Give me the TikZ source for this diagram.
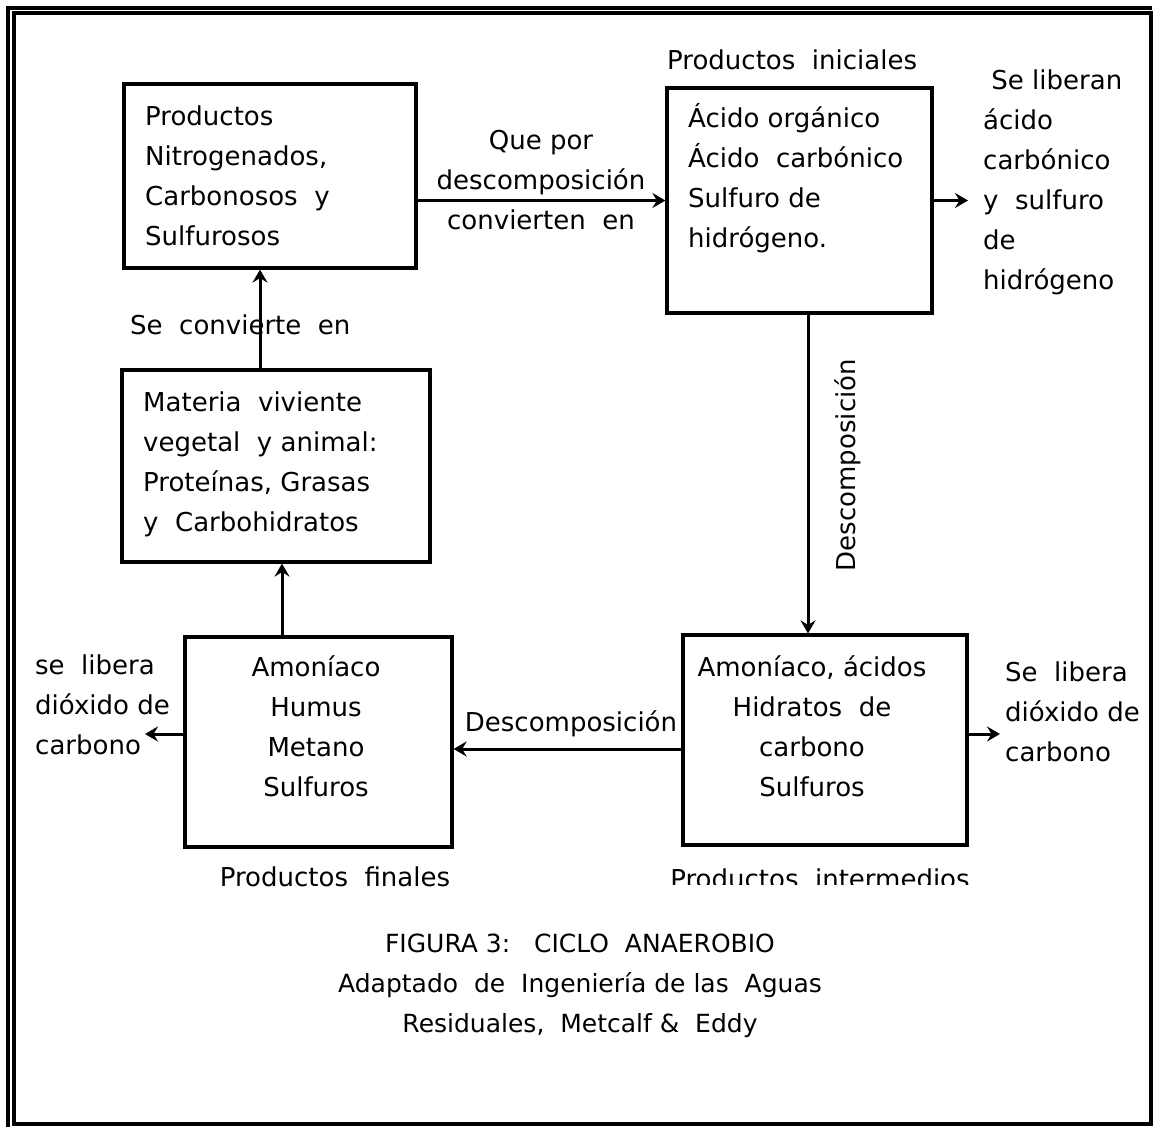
\documentclass[tikz,border=0pt]{standalone}
\usepackage{fontspec}
\setmainfont{DejaVu Sans}
\usetikzlibrary{arrows.meta}
\begin{document}
\begin{tikzpicture}[x=1pt,y=-1pt,
  box/.style={draw,line width=3.2pt,inner sep=0pt},
  conn/.style={line width=3pt,-{Stealth[length=13pt,width=15pt,inset=4.5pt]}},
  txt/.style={inner sep=0pt,font=\fontsize{26}{40}\selectfont},
  captxt/.style={inner sep=0pt,font=\fontsize{25}{40}\selectfont},
  frame/.style={line width=3.2pt}]
\useasboundingbox (0,0) rectangle (1154,1127);

% double frame round the figure
\draw[frame] (14,13) rectangle (1151,1124);
\draw[frame] (8,1127) -- (8,8) -- (1152,8);

% boxes
\node[box,minimum width=292pt,minimum height=184pt] (b1) at (270,176) {};
\node[box,minimum width=265pt,minimum height=225pt] (b2) at (799.5,200.5) {};
\node[box,minimum width=308pt,minimum height=192pt] (b3) at (276,466) {};
\node[box,minimum width=267pt,minimum height=210pt] (b4) at (318.5,742) {};
\node[box,minimum width=284pt,minimum height=210pt] (b5) at (825,740) {};

% box contents (multi-line nodes are placed by the baseline of their last line)
\node[txt,anchor=base west,align=left] (t1) at (145,245)
  {Productos\\Nitrogenados,\\Carbonosos\ \ y\\Sulfurosos};
\node[txt,anchor=base west,align=left] (t2) at (688,247)
  {Ácido orgánico\\Ácido\ \ carbónico\\Sulfuro de\\hidrógeno.};
\node[txt,anchor=base west,align=left] (t3) at (143,531)
  {Materia\ \ viviente\\vegetal\ \ y animal:\\Proteínas, Grasas\\y\ \ Carbohidratos};
\node[txt,anchor=base,align=center] (t4) at (316,796)
  {Amoníaco\\Humus\\Metano\\Sulfuros};
\node[txt,anchor=base,align=center] (t5) at (812,796)
  {Amoníaco, ácidos\\Hidratos\ \ de\\carbono\\Sulfuros};

% labels
\node[txt,anchor=base west] (lpi) at (667,69) {Productos\ \ iniciales};
\node[txt,anchor=base,align=center] (lq) at (541,229)
  {Que por\\descomposición\\convierten\ \ en};
\node[txt,anchor=base west,align=left] (lr1) at (983,289)
  {\ Se liberan\\ácido\\carbónico\\y\ \ sulfuro\\de\\hidrógeno};
\node[txt,anchor=base west] (lsc) at (130,334) {Se\ \ convierte\ \ en};
\node[txt,anchor=base west,align=left] (ll) at (35,754)
  {se\ \ libera\\dióxido de\\carbono};
\node[txt,anchor=base west,align=left] (lr2) at (1005,761)
  {Se\ \ libera\\dióxido de\\carbono};
\node[txt,anchor=base] (ld1) at (571,731) {Descomposición};
\node[txt,rotate=90] (ld2) at (848,465) {Descomposición};
\node[txt,anchor=base] (lpf) at (335,886) {Productos\ \ finales};
\begin{scope}
  \clip (600,850) rectangle (1060,884);
  \node[txt,anchor=base] (lpm) at (820,888) {Productos\ \ intermedios};
\end{scope}

% caption
\node[captxt,anchor=base,align=center] (cap) at (580,1032)
  {FIGURA 3:\ \ \ CICLO\ \ ANAEROBIO\\Adaptado\ \ de\ \ Ingeniería de las\ \ Aguas\\Residuales,\ \ Metcalf \&\ \ Eddy};

% connectors
\coordinate (v) at (808,0);
\coordinate (o1) at (968,200.5);
\coordinate (h) at (0,749);
\coordinate (o2) at (1000,734);
\coordinate (o3) at (145,734);
\coordinate (u1) at (282,0);
\coordinate (u2) at (260,0);
\draw[conn] (b2.west -| b1.east) -- (b2.west);
\draw[conn] (b2.east) -- (o1);
\draw[conn] (v |- b2.south) -- (v |- b5.north);
\draw[conn] (h -| b5.west) -- (h -| b4.east);
\draw[conn] (o2 -| b5.east) -- (o2);
\draw[conn] (o3 -| b4.west) -- (o3);
\draw[conn] (u1 |- b4.north) -- (u1 |- b3.south);
\draw[conn] (u2 |- b3.north) -- (u2 |- b1.south);
\end{tikzpicture}
\end{document}
